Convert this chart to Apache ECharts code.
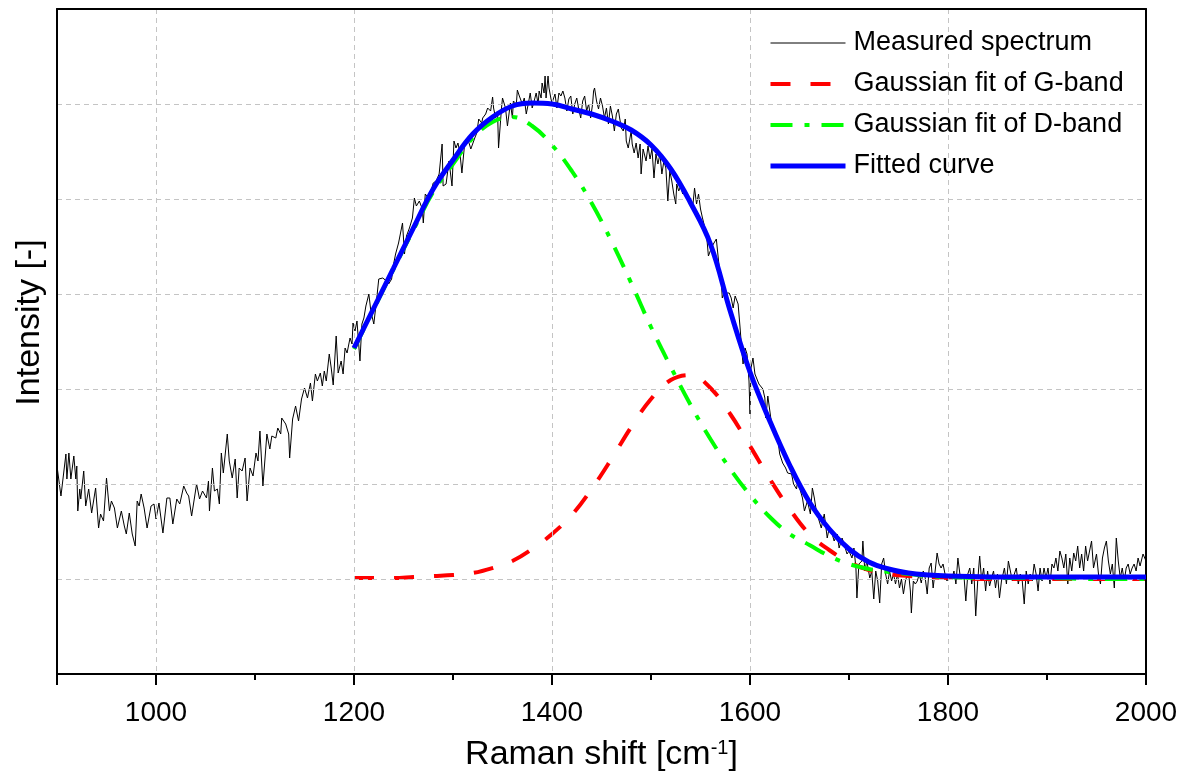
<!DOCTYPE html>
<html><head><meta charset="utf-8">
<script src="https://cdn.jsdelivr.net/npm/echarts@6/dist/echarts.min.js"></script>
<style>html,body{margin:0;padding:0;background:#fff}#c{width:1185px;height:783px}</style>
</head><body><div id="c"></div>
<script>
// Measured Raman spectrum: [Raman shift (cm^-1), intensity (a.u.)]
const measured = [
[900,113],[904,83],[909,125],[910,100],[912,126],[914,100],[917,123],[919,100],[920,113],[921,68],[923,90],[924,80],[927,108],[929,73],[932,90],[935,66],[939,91],[942,51],[944,65],[947,58],[950,101],[953,68],[955,78],[958,71],[961,51],[965,68],[968,53],[970,45],[973,66],[976,45],[979,33],[981,78],[983,73],[985,85],[988,71],[991,51],[995,73],[998,75],
[1000,60],[1003,76],[1005,61],[1007,46],[1011,81],[1014,81],[1017,55],[1021,80],[1024,75],[1028,93],[1031,86],[1033,83],[1036,63],[1041,95],[1044,80],[1047,88],[1051,81],[1053,98],[1054,68],[1057,111],[1059,88],[1062,90],[1064,75],[1066,126],[1068,106],[1072,145],[1074,118],[1077,101],[1080,120],[1082,81],[1084,111],[1087,108],[1090,121],[1092,78],[1095,111],[1098,103],
[1101,126],[1103,118],[1105,148],[1108,93],[1112,145],[1115,130],[1117,143],[1121,141],[1123,151],[1126,145],[1127,161],[1131,155],[1134,145],[1135,121],[1138,160],[1141,173],[1144,158],[1147,180],[1150,191],[1153,181],[1156,196],[1158,178],[1161,205],[1163,198],[1166,206],[1168,193],[1170,208],[1172,198],[1175,225],[1177,211],[1179,194],[1182,243],[1184,206],[1187,218],[1189,205],[1191,231],[1193,226],[1196,241],[1198,235],[1199,256],
[1201,248],[1203,258],[1206,218],[1208,255],[1210,261],[1212,273],[1215,285],[1217,268],[1220,255],[1223,281],[1225,300],[1229,301],[1233,298],[1235,295],[1238,300],[1240,315],[1242,325],[1245,336],[1249,356],[1251,325],[1253,343],[1256,351],[1259,361],[1261,381],[1263,373],[1266,378],[1269,370],[1270,356],[1272,385],[1275,381],[1278,388],[1280,396],[1283,398],
[1286,405],[1289,435],[1290,393],[1293,395],[1296,418],[1299,393],[1301,438],[1303,431],[1305,436],[1307,426],[1309,406],[1312,438],[1315,440],[1318,430],[1320,428],[1322,441],[1324,446],[1326,460],[1329,456],[1330,461],[1333,465],[1335,471],[1338,468],[1340,482],[1341,471],[1343,461],[1345,468],[1346,431],[1349,471],[1350,481],[1353,471],[1355,453],[1358,476],[1360,461],[1361,478],[1364,475],[1365,489],[1367,483],[1370,475],[1372,481],[1374,465],[1376,475],[1378,486],[1380,471],[1382,478],[1384,486],[1386,475],[1387,488],[1389,481],[1390,496],[1392,486],[1393,503],[1394,481],[1396,503],[1397,491],[1399,480],
[1400,476],[1403,485],[1405,471],[1407,486],[1409,483],[1411,488],[1413,481],[1415,468],[1417,480],[1419,483],[1421,465],[1423,475],[1425,481],[1427,470],[1429,461],[1431,478],[1433,483],[1435,468],[1437,475],[1439,461],[1441,475],[1442,488],[1443,491],[1445,478],[1447,470],[1449,481],[1451,473],[1453,461],[1455,471],[1457,455],[1459,473],[1461,463],[1463,448],[1465,465],[1467,470],[1468,463],[1470,451],[1472,448],[1474,460],[1475,438],[1477,431],[1480,448],[1481,435],[1483,426],[1485,436],[1487,421],[1489,435],[1490,405],[1492,430],[1495,418],[1497,433],[1499,420],
[1501,430],[1503,401],[1505,425],[1507,415],[1509,425],[1511,405],[1513,418],[1515,411],[1517,378],[1519,408],[1521,398],[1523,385],[1525,375],[1526,395],[1528,388],[1530,393],[1532,385],[1535,388],[1538,378],[1540,381],[1542,371],[1544,391],[1546,375],[1548,385],[1550,370],[1552,361],[1554,353],[1556,345],[1558,323],[1561,331],[1563,335],[1566,340],[1567,330],[1569,311],[1571,298],[1572,281],[1574,286],[1576,285],[1579,286],[1581,281],[1583,271],[1585,283],[1588,275],[1590,251],[1592,225],[1593,215],[1595,231],[1597,225],[1599,198],
[1600,165],[1601,211],[1603,221],[1605,205],[1607,200],[1609,195],[1611,193],[1613,190],[1615,181],[1616,161],[1618,183],[1619,185],[1621,161],[1623,160],[1624,148],[1626,145],[1628,141],[1630,125],[1633,116],[1636,111],[1638,106],[1642,105],[1644,95],[1647,90],[1648,98],[1651,88],[1653,81],[1655,68],[1658,78],[1661,65],[1663,91],[1665,81],[1667,68],[1669,61],[1672,51],[1675,65],[1678,41],[1680,51],[1683,45],[1685,38],[1688,45],[1690,31],[1693,41],[1695,35],[1698,25],
[1700,28],[1703,21],[1705,31],[1707,11],[1708,-19],[1710,15],[1713,18],[1714,38],[1716,8],[1718,18],[1721,1],[1723,8],[1725,-20],[1727,8],[1729,-2],[1731,-24],[1733,15],[1735,21],[1737,5],[1739,-5],[1741,8],[1743,-2],[1745,5],[1747,-5],[1749,5],[1751,-9],[1753,0],[1755,-15],[1757,-2],[1760,8],[1762,-12],[1763,-34],[1765,-2],[1767,-5],[1769,-2],[1771,5],[1773,-4],[1775,8],[1777,1],[1779,-15],[1781,11],[1783,16],[1785,-9],[1787,8],[1789,26],[1791,15],[1793,11],[1795,15],[1797,5],[1799,-2],
[1801,5],[1804,0],[1806,8],[1808,-5],[1810,21],[1812,5],[1814,0],[1816,5],[1818,-22],[1820,5],[1822,11],[1824,-5],[1826,11],[1828,-37],[1830,-2],[1832,23],[1834,-2],[1836,11],[1838,-12],[1840,8],[1842,-7],[1844,1],[1846,8],[1848,-9],[1850,5],[1852,-19],[1854,-2],[1857,11],[1859,-5],[1861,18],[1863,8],[1865,-2],[1867,5],[1869,11],[1871,-5],[1873,5],[1875,-2],[1877,-25],[1879,8],[1881,-5],[1883,5],[1885,-2],[1887,15],[1889,5],[1891,-12],[1893,11],[1895,-2],[1897,11],[1899,1],
[1901,11],[1903,-5],[1905,15],[1907,11],[1909,21],[1911,8],[1913,28],[1915,21],[1917,11],[1919,25],[1921,-5],[1923,21],[1925,8],[1927,26],[1929,18],[1931,33],[1933,11],[1935,25],[1937,8],[1939,33],[1941,18],[1943,28],[1945,38],[1947,11],[1950,25],[1952,5],[1954,-5],[1956,21],[1958,31],[1960,38],[1962,18],[1964,5],[1966,15],[1968,-9],[1970,41],[1972,18],[1974,1],[1976,11],[1978,-2],[1980,11],[1982,15],[1984,5],[1986,11],[1988,15],[1990,8],[1992,21],[1994,13],[1997,25],[2000,18]
];

// Fit results sampled on a common Raman-shift grid
const fitShift = [1200,1220,1240,1260,1280,1300,1320,1340,1360,1380,1400,1420,1440,1460,1480,1500,1520,1540,1560,1580,1600,1620,1640,1660,1680,1700,1720,1740,1760,1780,1800,1850,1900,1950,2000];
const gBand    = [1,1,1,2,3,4,6,11,18,30,45,64,90,120,152,180,199,204,191,165,133,100,70,45,29,17,9,5,3,2,1,0,0,0,0];
const dBand    = [230,270,310,349,387,415,441,457,462,453,434,408,376,338,296,252,212,174,140,110,84,62,45,34,23,15,10,7,5,3,2,1,1,0,0];
const fitted   = [231,271,311,351,390,419,445,462,473,476,475,470,465,458,449,434,410,376,335,268,207,158,114,77,50,30,17,10,6,4,3,2,2,2,2];

const seriesNames = ['Measured spectrum','Gaussian fit of G-band','Gaussian fit of D-band','Fitted curve'];

const zip = (xs, ys) => xs.map((x, i) => [x, ys[i]]);
const FONT = "'Liberation Sans', Arial, Helvetica, sans-serif";
const GRID_LINE = {show: true, lineStyle: {color: '#c4c4c4', type: [5, 4], width: 1}};

const STYLES = [
  {color: '#000000', width: 1, type: 'solid'},
  {color: '#ff0000', width: 4, type: [20, 20]},
  {color: '#00ff00', width: 4, type: [22, 12, 5, 12]},
  {color: '#0000ff', width: 5, type: 'solid'}
];

const frameAxis = (pos) => ({
  type: 'value', position: pos, min: pos === 'top' ? 900 : -95, max: pos === 'top' ? 2000 : 570,
  z: 5,
  axisLine: {show: true, onZero: false, lineStyle: {color: '#000', width: 2}},
  axisTick: {show: false}, axisLabel: {show: false}, splitLine: {show: false}
});

const chart = echarts.init(document.getElementById('c'), null, {renderer: 'canvas'});
chart.setOption({
  animation: false,
  backgroundColor: '#ffffff',
  textStyle: {fontFamily: FONT},
  grid: {left: 57, right: 39, top: 9, bottom: 109, containLabel: false, outerBoundsMode: 'none'},
  legend: {
    orient: 'vertical', left: 768, top: 28, padding: 0, itemGap: 11,
    itemWidth: 75, itemHeight: 14,
    data: seriesNames.map((n, i) => ({
      name: n,
      itemStyle: {opacity: 0, color: STYLES[i].color, borderWidth: 0},
      lineStyle: {color: STYLES[i].color, width: STYLES[i].width, type: STYLES[i].type, opacity: 1}
    })),
    textStyle: {fontSize: 27, lineHeight: 30, color: '#000', fontFamily: FONT, padding: [0, 0, 0, 3]}
  },
  xAxis: [{
    type: 'value', min: 900, max: 2000, z: 4,
    name: 'Raman shift [cm{sup|-1}]', nameLocation: 'middle', nameGap: 64,
    nameTextStyle: {fontSize: 34, color: '#000', fontFamily: FONT,
      rich: {sup: {fontSize: 20, color: '#000', fontFamily: FONT, verticalAlign: 'top'}}},
    axisLine: {show: true, onZero: false, lineStyle: {color: '#000', width: 2}},
    axisTick: {show: true, length: 11, lineStyle: {color: '#000', width: 2}},
    minorTick: {show: true, splitNumber: 2, length: 6, lineStyle: {color: '#000', width: 2}},
    axisLabel: {fontSize: 28, color: '#000', fontFamily: FONT, margin: 25, showMinLabel: false,
                formatter: (v) => String(v)},
    splitLine: GRID_LINE
  }, frameAxis('top')],
  yAxis: [{
    type: 'value', min: -95, max: 570, interval: 95, z: 4,
    name: 'Intensity [-]', nameLocation: 'middle', nameGap: 10, nameRotate: 90,
    nameTextStyle: {fontSize: 34, color: '#000', fontFamily: FONT, padding: [0, 0, 0, 38]},
    axisLine: {show: true, onZero: false, lineStyle: {color: '#000', width: 2}},
    axisTick: {show: false},
    axisLabel: {show: false},
    splitLine: GRID_LINE
  }, frameAxis('right')],
  series: seriesNames.map((n, i) => ({
    name: n, type: 'line', symbol: 'none', z: 2 + i,
    data: i === 0 ? measured : zip(fitShift, [null, gBand, dBand, fitted][i]),
    smooth: i === 0 ? false : 0.4,
    lineStyle: {color: STYLES[i].color, width: STYLES[i].width, type: STYLES[i].type},
    itemStyle: {color: STYLES[i].color}
  }))
});
</script></body></html>
